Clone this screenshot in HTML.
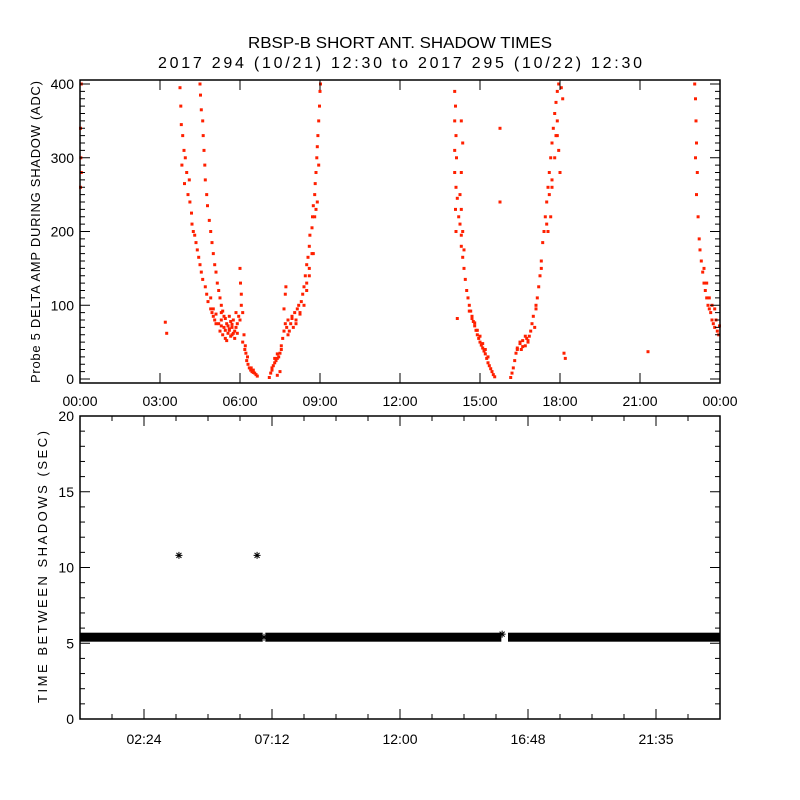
<!DOCTYPE html>
<html><head><meta charset="utf-8"><style>
html,body{margin:0;padding:0;background:#fff;}
svg{display:block;font-family:"Liberation Sans",sans-serif;}
</style></head><body>
<svg id="chart" width="800" height="800" viewBox="0 0 800 800">
<rect width="800" height="800" fill="#fff"/>
<text x="400" y="48" text-anchor="middle" font-size="16" textLength="304" lengthAdjust="spacingAndGlyphs">RBSP-B SHORT ANT. SHADOW TIMES</text>
<text x="400" y="68" text-anchor="middle" font-size="16" textLength="484" lengthAdjust="spacing">2017 294 (10/21) 12:30 to 2017 295 (10/22) 12:30</text>
<g id="topPanel"></g>
<g id="botPanel"></g>
<text transform="translate(40,232) rotate(-90)" text-anchor="middle" font-size="13" textLength="302" lengthAdjust="spacing">Probe 5 DELTA AMP DURING SHADOW (ADC)</text>
<text transform="translate(47,567) rotate(-90)" text-anchor="middle" font-size="13" textLength="272" lengthAdjust="spacing">TIME BETWEEN SHADOWS (SEC)</text>
</svg>
<script>
// ---- Top panel data (hour of day, ADC amplitude) ----
const ampHours = [3.75,3.78,3.8,3.85,3.9,3.82,3.95,4.0,3.92,4.05,4.1,4.12,4.18,4.2,4.25,4.3,4.35,4.4,4.45,4.5,4.55,4.6,4.7,4.75,4.8,4.9,4.95,5.0,5.05,5.1,
4.5,4.52,4.55,4.6,4.62,4.65,4.68,4.7,4.75,4.78,4.85,4.9,4.95,5.0,5.05,5.1,5.15,5.2,5.25,5.3,5.35,5.4,
5.2,5.25,5.3,5.35,5.4,5.45,5.5,5.55,5.6,5.65,5.7,5.75,5.8,5.85,5.9,5.5,5.6,5.7,5.8,5.95,6.0,
6.0,6.02,6.05,6.05,6.1,6.15,6.2,6.22,6.25,6.3,6.35,6.4,6.45,6.5,6.55,6.6,6.65,
7.1,7.15,7.2,7.25,7.3,7.35,7.4,7.45,7.5,7.55,7.6,7.65,7.65,7.7,7.72,7.7,7.75,7.8,7.85,7.9,7.95,8.0,8.05,8.1,8.15,8.2,8.25,8.3,8.35,8.4,8.45,8.5,8.55,8.6,8.62,8.7,8.72,8.75,8.8,8.82,8.85,8.88,8.9,8.92,8.95,8.98,9.0,9.02,8.7,8.6,8.5,8.9,8.8,
3.2,3.25,0.05,0.02,0.03,0.05,0.02,7.5,7.4,
14.05,14.08,14.05,14.1,14.05,14.12,14.05,14.1,14.15,14.08,14.2,14.25,14.3,14.1,14.3,14.35,14.4,14.45,14.5,14.55,14.6,14.65,14.7,14.75,14.8,14.85,14.9,14.95,15.0,15.05,15.1,15.15,15.2,15.25,15.3,15.35,15.4,15.45,15.5,15.55,14.3,14.35,14.3,14.25,14.3,14.35,14.4,
16.15,16.2,16.25,16.3,16.35,16.4,16.5,16.55,16.6,16.7,16.75,16.8,16.85,16.9,16.95,17.0,17.05,17.1,17.15,17.2,17.25,17.3,17.35,17.4,17.45,17.5,17.55,17.6,17.65,17.7,17.75,17.8,17.85,17.9,17.95,18.05,18.1,17.6,17.7,17.8,17.85,17.9,17.65,17.55,17.95,18.0,
15.75,15.75,18.15,18.2,21.3,14.15,
23.05,23.08,23.1,23.12,23.08,23.15,23.12,23.18,23.22,23.25,23.3,23.35,23.4,23.45,23.5,23.55,23.6,23.65,23.7,23.75,23.8,23.85,23.9,23.95,23.98,23.4,23.5,23.6,23.7,23.8,
4.9,5.0,5.1,5.3,5.45,5.55,5.65,5.75,5.85,5.3,5.45,5.6,5.7,5.9,6.1,6.18,6.28,6.42,6.5,
7.2,7.3,7.4,7.55,7.8,7.95,8.1,8.25,8.4,8.5,8.6,8.75,8.85,8.95,
14.6,14.7,14.8,14.9,15.0,15.1,15.2,15.3,16.4,16.5,16.6,16.7,16.8,17.1,17.3,17.5,17.7,17.9];
const ampValues = [395,370,345,330,310,290,300,280,265,250,270,240,225,210,200,195,185,175,165,155,145,135,125,115,105,95,90,85,80,75,
400,385,365,350,330,310,290,270,250,235,215,200,185,170,155,145,130,120,110,100,92,85,
75,65,80,60,70,55,75,62,85,58,70,80,65,90,75,52,68,60,55,85,80,
150,130,115,100,90,60,45,35,25,20,15,12,10,12,8,6,4,
2,8,12,18,22,25,28,30,35,45,55,65,95,115,125,75,70,80,65,75,85,70,90,80,95,100,90,105,115,125,140,155,165,180,195,205,220,235,250,265,280,300,315,330,350,370,390,400,170,150,130,240,220,
77,62,400,340,300,280,260,10,5,
390,370,350,330,310,300,280,260,245,230,220,210,195,200,180,165,150,135,120,110,100,92,85,78,72,66,60,55,50,46,42,38,34,28,22,18,14,10,6,3,350,320,280,250,230,200,175,
2,8,15,25,35,42,48,40,52,45,55,50,58,65,75,85,70,95,110,125,140,160,185,200,220,240,260,280,300,320,340,360,375,390,400,395,380,250,270,300,330,350,220,200,310,280,
340,240,35,28,37,82,
400,380,350,320,300,280,250,220,190,175,160,145,130,120,110,100,95,90,80,75,70,80,65,60,72,150,130,110,100,95,
110,95,88,72,66,72,78,62,70,90,82,66,74,62,50,40,30,15,9,
15,28,34,40,60,82,75,88,100,120,140,170,230,290,
92,82,76,66,58,48,40,30,40,50,44,58,52,100,150,210,260,330];
const topXTickHours = [0,3,6,9,12,15,18,21,24];
const topXTickLabels = ["00:00","03:00","06:00","09:00","12:00","15:00","18:00","21:00","00:00"];
const topYTicks = [0,100,200,300,400];

// ---- Bottom panel data ----
const bandStartHours = [0, 6.95, 16.05];
const bandEndHours = [6.85, 15.8, 24];
const bandValues = [5.4, 5.4, 5.4];
const starHours = [3.71, 6.64, 6.9, 15.83];
const starValues = [10.8, 10.8, 5.4, 5.6];
const botXTickHours = [2.4,7.2,12,16.8,21.6];
const botXTickLabels = ["02:24","07:12","12:00","16:48","21:35"];
const botYTicks = [0,5,10,15,20];

const NS="http://www.w3.org/2000/svg";
function mk(tag,attrs,parent){const e=document.createElementNS(NS,tag);for(const k in attrs)e.setAttribute(k,attrs[k]);parent.appendChild(e);return e;}
const X0=80,X1=720;
const xS=h=>X0+(h/24)*(X1-X0);
const TY0=379,TY1=84,TT=80,TB=383;
const yT=v=>TY0+(v/400)*(TY1-TY0);
const BY0=719,BY1=416,BT=416,BB=719;
const yB=v=>BY0+(v/20)*(BY1-BY0);

const topG=document.getElementById('topPanel'), botG=document.getElementById('botPanel');

for(let i=0;i<ampHours.length;i++){
  const p=mk('rect',{x:(xS(ampHours[i])-1.5).toFixed(1),y:(yT(ampValues[i])-1.5).toFixed(1),width:3,height:3,fill:'#ff2000'},topG);
  
  
}
let f=mk('rect',{x:X0,y:TT,width:X1-X0,height:TB-TT,fill:'none',stroke:'#000','stroke-width':1.5},topG);


for(let v=0;v<=400;v+=10){
  const len=(v%100===0)?10:5;const y=yT(v);
  mk('line',{x1:X0,x2:X0+len,y1:y,y2:y,stroke:'#000'},topG);
  mk('line',{x1:X1,x2:X1-len,y1:y,y2:y,stroke:'#000'},topG);
}
topYTicks.forEach(v=>{
  const t=mk('text',{x:X0-6,y:yT(v)+5,'text-anchor':'end','font-size':14},topG);t.textContent=v;
  
  
});
topXTickHours.forEach((h,i)=>{
  const x=xS(h);
  mk('line',{x1:x,x2:x,y1:TB,y2:TB-10,stroke:'#000'},topG);
  mk('line',{x1:x,x2:x,y1:TT,y2:TT+10,stroke:'#000'},topG);
  const t=mk('text',{x:x,y:406,'text-anchor':'middle','font-size':14},topG);t.textContent=topXTickLabels[i];
  
  
});

for(let i=0;i<bandStartHours.length;i++){
  const r=mk('rect',{x:xS(bandStartHours[i]),y:yB(bandValues[i])-4.5,width:xS(bandEndHours[i])-xS(bandStartHours[i]),height:9,fill:'#000'},botG);
  
  
}
for(let i=0;i<starHours.length;i++){
  const cx=xS(starHours[i]),cy=yB(starValues[i]);
  const g=mk('g',{stroke:'#000','stroke-width':1},botG);
  
  
  mk('line',{x1:cx-3.5,x2:cx+3.5,y1:cy,y2:cy},g);
  mk('line',{x1:cx,x2:cx,y1:cy-3.5,y2:cy+3.5},g);
  mk('line',{x1:cx-2.5,x2:cx+2.5,y1:cy-2.5,y2:cy+2.5},g);
  mk('line',{x1:cx-2.5,x2:cx+2.5,y1:cy+2.5,y2:cy-2.5},g);
}
f=mk('rect',{x:X0,y:BT,width:X1-X0,height:BB-BT,fill:'none',stroke:'#000','stroke-width':1.5},botG);


for(let v=0;v<=20;v+=1){
  const len=(v%5===0)?10:5;const y=yB(v);
  mk('line',{x1:X0,x2:X0+len,y1:y,y2:y,stroke:'#000'},botG);
  mk('line',{x1:X1,x2:X1-len,y1:y,y2:y,stroke:'#000'},botG);
}
botYTicks.forEach(v=>{
  const t=mk('text',{x:X0-6,y:yB(v)+5,'text-anchor':'end','font-size':14},botG);t.textContent=v;
  
  
});
for(let k=0;k<=20;k++){
  const h=k*1.2,x=xS(h),len=(k%4===2)?10:5;
  mk('line',{x1:x,x2:x,y1:BB,y2:BB-len,stroke:'#000'},botG);
  mk('line',{x1:x,x2:x,y1:BT,y2:BT+len,stroke:'#000'},botG);
}
botXTickHours.forEach((h,i)=>{
  const t=mk('text',{x:xS(h),y:744,'text-anchor':'middle','font-size':14},botG);t.textContent=botXTickLabels[i];
  
  
});
</script>
</body></html>
